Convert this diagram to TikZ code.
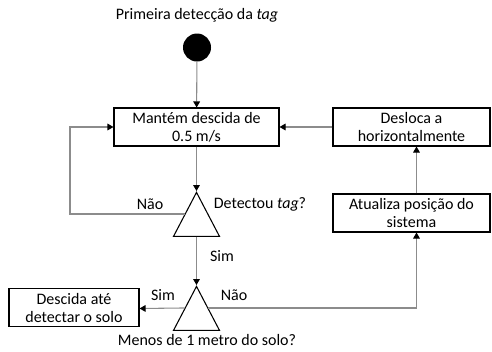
\documentclass[tikz,border=0pt]{standalone}
\usepackage{fontspec}
\setmainfont{Carlito}
\usepackage{tikz}
\usetikzlibrary{shapes.geometric,arrows.meta,calc}
\definecolor{linegray}{RGB}{140,140,140}

\begin{document}
\begin{tikzpicture}[x=0.75pt,y=-0.75pt,
    font=\fontsize{12}{13.5}\selectfont,
    >={Triangle[black,length=4.5pt,width=5pt]},
    box/.style={draw,thick,align=center,inner sep=0pt,minimum height=28.5pt},
    test/.style={draw,thick,isosceles triangle,isosceles triangle stretches,
      shape border rotate=90,inner sep=0pt,minimum width=34.5pt,minimum height=33pt},
    conn/.style={draw=linegray,thick,->}]
  \useasboundingbox (0,0) rectangle (492,351);
  \node (titulo) at (197,15) {Primeira detecção da \textit{tag}};
  \node[circle,fill=black,minimum size=21pt,inner sep=0pt] (inicio) at (197,47.5) {};
  \node[box,minimum width=123.75pt] (desce) at (196.5,127) {Mantém descida de\\0.5 m/s};
  \node[box,minimum width=117.75pt] (desloca) at (411.5,127) {Desloca a\\horizontalmente};
  \node[box,minimum width=117.75pt] (atualiza) at (411.5,213) {Atualiza posição do\\sistema};
  \node[box,minimum width=97.5pt] (solo) at (74,307.5) {Descida até\\detectar o solo};
  \node[test,anchor=apex] (tag) at (196.5,191) {};
  \node[test,anchor=apex] (metro) at (196.5,285) {};
  \node (ptag) at (260,204) {Detectou \textit{tag}?};
  \node (pmetro) at (207,340) {Menos de 1 metro do solo?};
  \node (nao1) at (150,204) {Não};
  \node (sim1) at (222,256) {Sim};
  \node (sim2) at (163,295) {Sim};
  \node (nao2) at (234,295) {Não};

  \draw[conn] (inicio) -- (desce);
  \draw[conn] (desce) -- (tag.apex);
  \draw[conn] ($(tag.apex)!0.5!(tag.left corner)$) -| (70,170) |- (desce.west);
  \draw[conn] ($(tag.left corner)!0.5!(tag.right corner)$) -- (metro.apex);
  \draw[conn] ($(metro.apex)!0.5!(metro.left corner)$) -- (solo.east |- 0,308.5);
  \draw[conn] ($(metro.apex)!0.5!(metro.right corner)$) -| ($(atualiza.south)+(5,0)$);
  \draw[conn] ($(atualiza.north)+(5,0)$) -- ($(desloca.south)+(5,0)$);
  \draw[conn] (desloca) -- (desce);
\end{tikzpicture}
\end{document}
